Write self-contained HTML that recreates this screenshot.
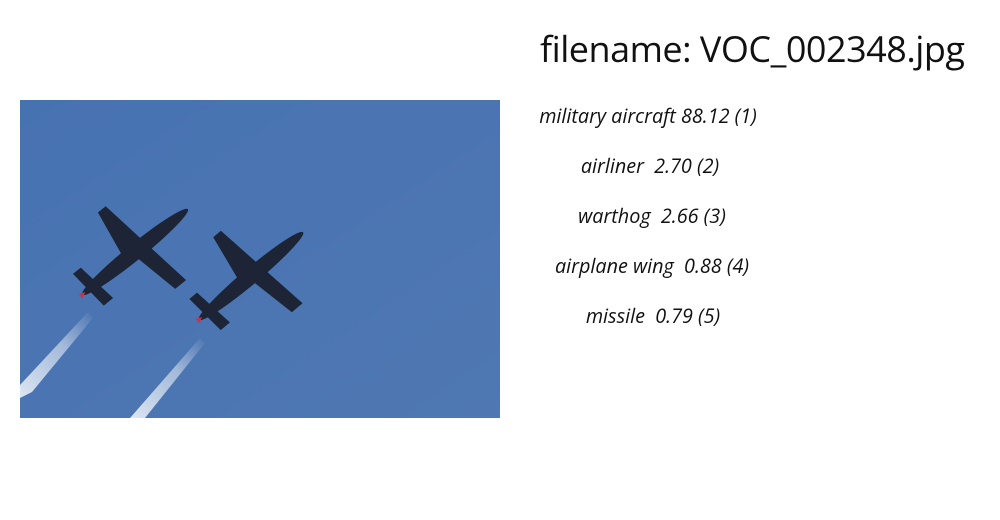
<!DOCTYPE html>
<html><head><meta charset="utf-8"><style>
body{margin:0;width:1000px;height:520px;background:#fff;position:relative;overflow:hidden;font-family:"Open Sans","DejaVu Sans","Liberation Sans",sans-serif;}
#t{position:absolute;left:540px;top:24px;font-size:36px;color:#111;white-space:nowrap;letter-spacing:-0.5px}
.l{position:absolute;font-style:italic;font-size:19.8px;color:#111;white-space:nowrap;width:240px;left:528px;text-align:center}
</style></head><body>
<svg style="position:absolute;left:0;top:0" width="1000" height="520">
<defs><linearGradient id="bg" x1="0" y1="0" x2="1" y2="1"><stop offset="0" stop-color="#4772b2"/><stop offset="1" stop-color="#4f78b2"/></linearGradient>
<linearGradient id="sm" x1="1" y1="0" x2="0" y2="1"><stop offset="0" stop-color="#dfe8f4" stop-opacity="0"/><stop offset="0.4" stop-color="#dfe8f4" stop-opacity="0.6"/><stop offset="1" stop-color="#eef3fa" stop-opacity="0.9"/></linearGradient></defs>
<rect x="20" y="100" width="480" height="318" fill="url(#bg)"/>
<polygon points="88,312 93,318 32,392 20,398 20,385" fill="url(#sm)"/>
<polygon points="200,338 205,343 145,418 130,418" fill="url(#sm)"/>
<g transform="translate(135,252) rotate(-39)" fill="#1c2435">
<ellipse cx="0" cy="0" rx="68" ry="8"/>
<polygon points="-4,-54 6,-54 22,54 8,54 -2,6 -12,-6"/>
<polygon points="-62,-22 -52,-22 -46,22 -58,22"/>
<polygon points="-70,-3 -64,0 -70,3" fill="#d03040"/>
</g>
<g transform="translate(251,276) rotate(-40)" fill="#1c2435">
<ellipse cx="0" cy="0" rx="68" ry="8"/>
<polygon points="-4,-54 6,-54 22,54 8,54 -2,6 -12,-6"/>
<polygon points="-62,-22 -52,-22 -46,22 -58,22"/>
<polygon points="-70,-3 -64,0 -70,3" fill="#d03040"/>
</g>
</svg>
<div id="t">filename: VOC_002348.jpg</div>
<div class="l" style="top:102px">military aircraft 88.12 (1)</div>
<div class="l" style="top:152px;left:530px">airliner&nbsp; 2.70 (2)</div>
<div class="l" style="top:202px;left:532px">warthog&nbsp; 2.66 (3)</div>
<div class="l" style="top:252px;left:532px">airplane wing&nbsp; 0.88 (4)</div>
<div class="l" style="top:302px;left:533px">missile&nbsp; 0.79 (5)</div>
</body></html>
